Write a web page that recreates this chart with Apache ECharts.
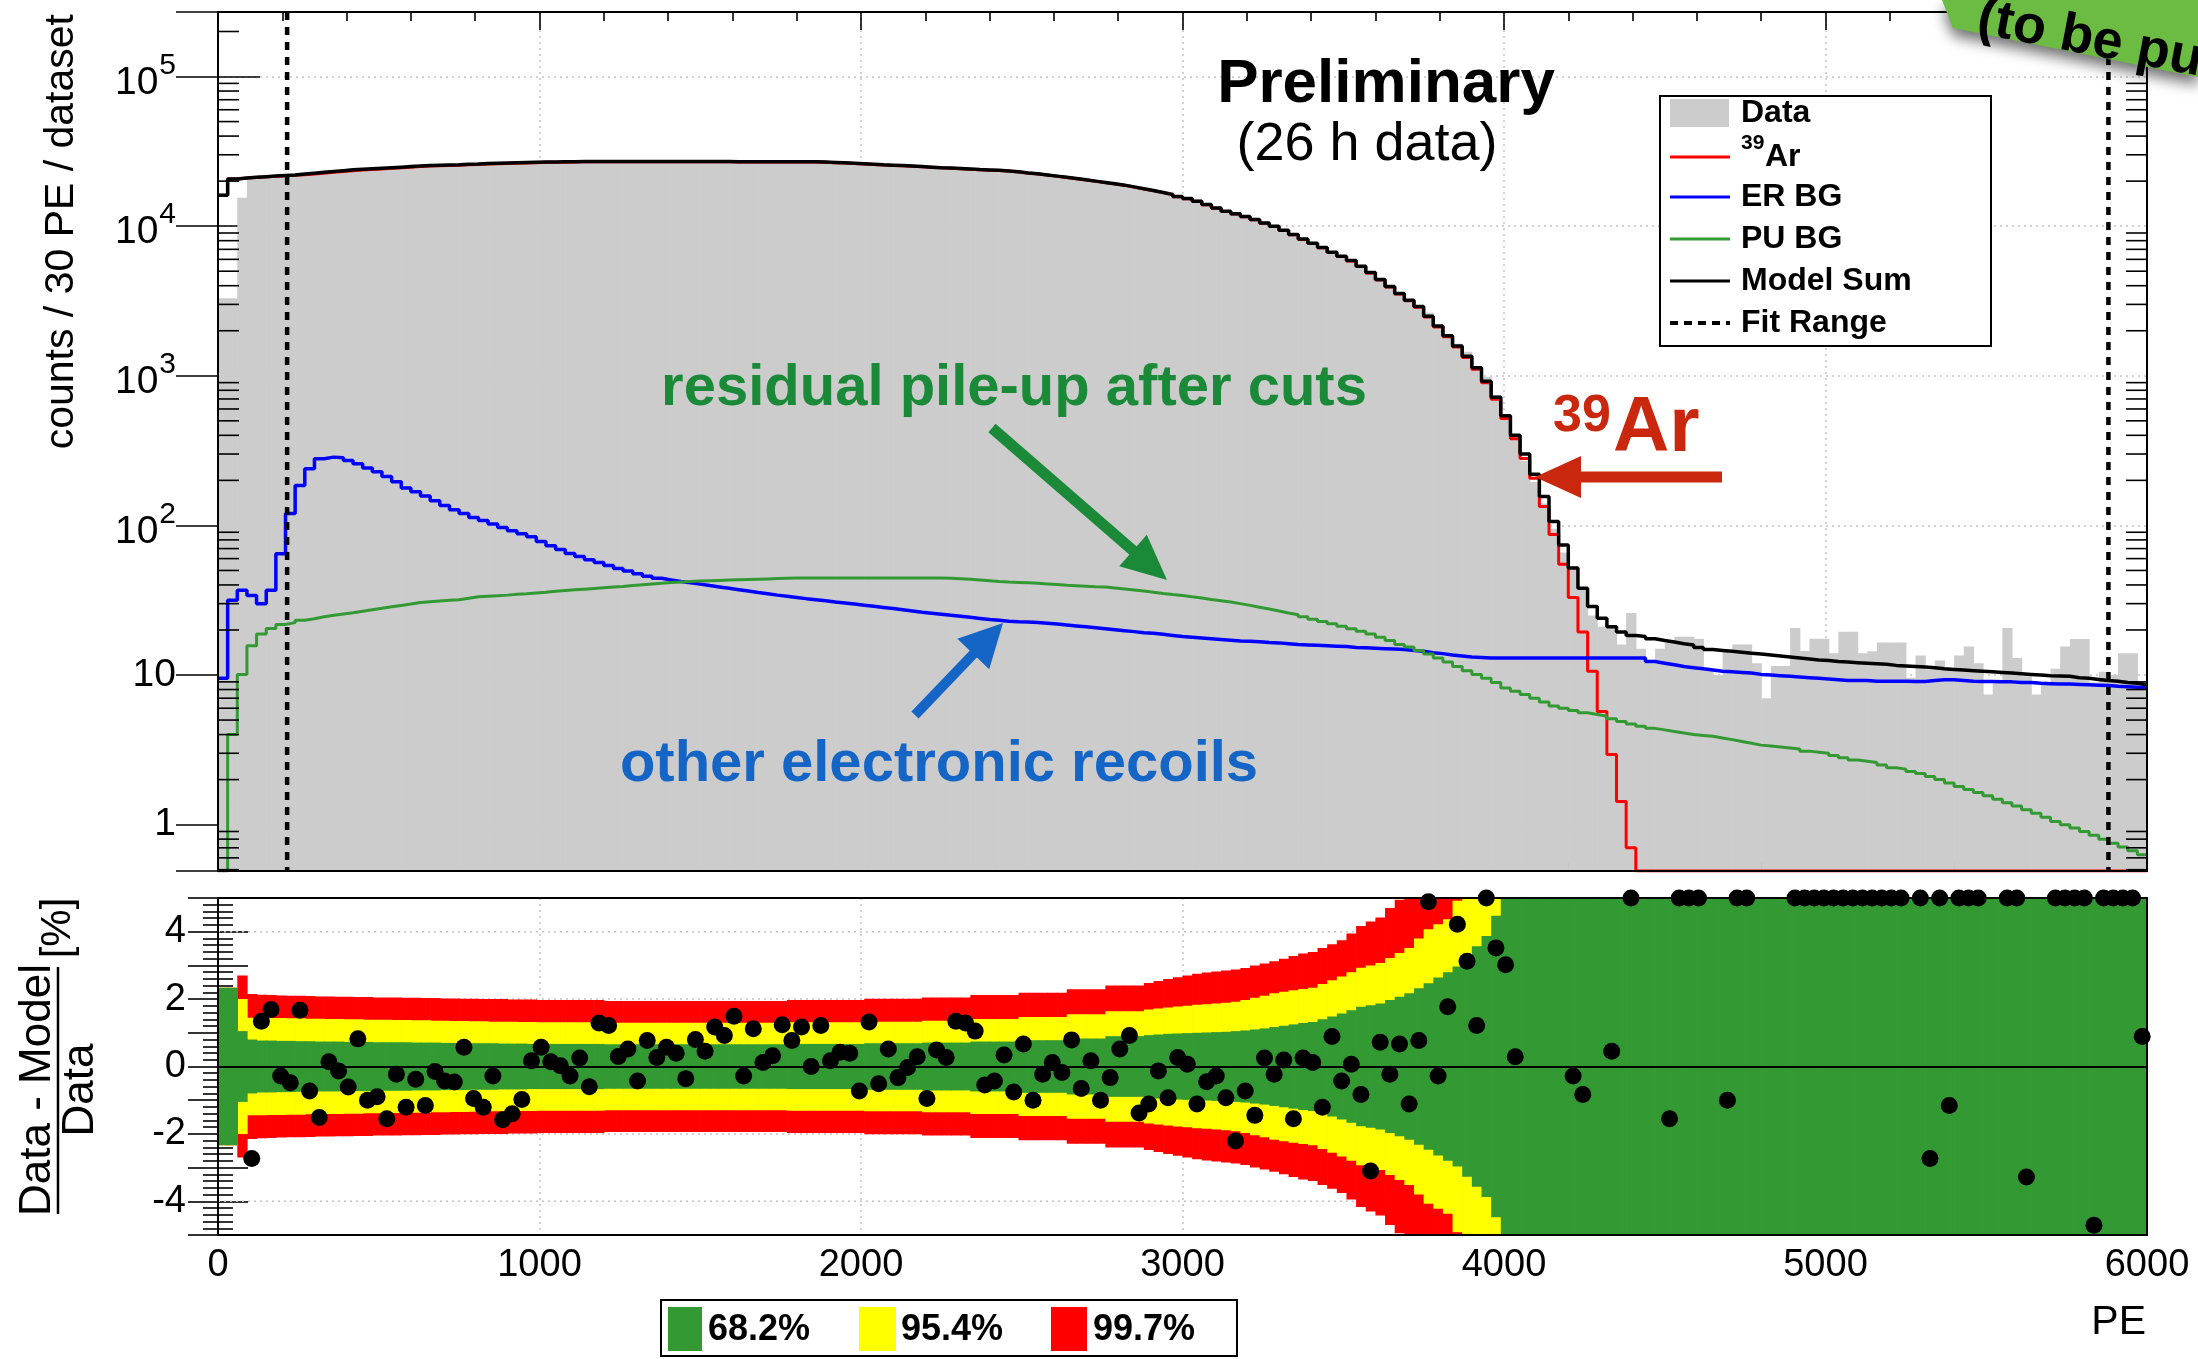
<!DOCTYPE html>
<html><head><meta charset="utf-8">
<script src="https://cdn.jsdelivr.net/npm/echarts@6/dist/echarts.min.js"></script>
<style>html,body{margin:0;padding:0;background:#fff}#c{width:2198px;height:1359px}</style>
</head><body><div id="c"></div><script>
// ---------------- DATA (30 PE bins, 0..6000 PE) ----------------
const BIN_WIDTH = 30;
const X_RANGE = [0, 6000];
const Y_LOG_RANGE = [0.49, 270000];
const RESID_RANGE = [-5, 5];
const fitRange = [215, 5880];

const modelSum = [
16100,20700,21000,21200,21400,21600,21800,22000,22300,22600,
22900,23200,23500,23800,24000,24200,24400,24600,24800,25000,
25200,25400,25500,25600,25700,25900,26000,26200,26300,26400,
26500,26600,26700,26800,26800,26900,26900,27000,27000,27000,
27000,27000,27000,27000,27000,27000,27000,27000,27000,27000,
27000,27000,27000,26950,26950,26900,26900,26900,26900,26900,
26900,26900,26800,26650,26500,26300,26100,25900,25700,25550,
25400,25200,25000,24800,24600,24450,24300,24100,23900,23750,
23600,23400,23100,22700,22400,22000,21600,21200,20800,20400,
20000,19600,19200,18800,18300,17800,17300,16800,16300,15800,
15300,14700,13950,13200,12600,12100,11600,11100,10500,10000,
9400,8800,8200,7700,7200,6700,6300,5900,5400,4900,
4400,3950,3550,3200,2900,2500,2150,1850,1580,1350,
1130,920,720,540,400,300,220,156,106,74,
52,38,28.7,24,21,19.4,18.4,18.1,17.5,17.0,
16.6,16.2,15.9,15.3,14.8,14.6,14.4,14.2,14.0,13.8,
13.6,13.4,13.2,13.0,12.8,12.6,12.5,12.3,12.2,12.1,
12.0,11.9,11.8,11.6,11.5,11.4,11.3,11.2,11.0,10.9,
10.8,10.7,10.6,10.5,10.4,10.3,10.2,10.1,10.0,9.9,
9.85,9.8,9.6,9.5,9.35,9.2,9.1,8.9,8.8,8.6];

const ar39 = [
16090,20660,20950,21150,21350,21540,21710,21860,22090,22340,
22600,22890,23190,23500,23720,23930,24140,24360,24570,24790,
25000,25210,25320,25430,25540,25750,25850,26060,26160,26270,
26370,26480,26580,26690,26690,26790,26800,26900,26900,26900,
26910,26910,26910,26910,26910,26910,26910,26920,26920,26920,
26920,26920,26920,26870,26870,26820,26820,26820,26820,26820,
26820,26820,26720,26570,26430,26230,26030,25830,25630,25480,
25330,25130,24930,24730,24530,24380,24230,24030,23830,23680,
23530,23340,23040,22640,22340,21940,21540,21140,20740,20340,
19940,19540,19140,18740,18240,17740,17250,16750,16250,15750,
15250,14650,13900,13150,12550,12050,11550,11050,10460,9960,
9360,8760,8160,7660,7160,6660,6260,5860,5370,4870,
4370,3920,3520,3170,2870,2470,2120,1820,1555,1326,
1107,898,698,519,379,280,207,134,87,55,
33,19.4,10.6,5.7,2.94,1.43,0.7,0,0,0,
0,0,0,0,0,0,0,0,0,0,
0,0,0,0,0,0,0,0,0,0,
0,0,0,0,0,0,0,0,0,0,
0,0,0,0,0,0,0,0,0,0,
0,0,0,0,0,0,0,0,0,0];

const erBG = [
9.5,31.6,36.8,34,30,36.8,64.6,120,185,239,
279,286,283,272,258,242,228,212,196,178,
168,157,146,136,127,120,113,108,102,97,
92,88,84,78,73,69,65,62,59,56.5,
54,51.5,49.5,47.5,45.8,44.3,43.2,42.2,41.4,40.5,
39.6,38.8,38.0,37.2,36.4,35.6,34.9,34.2,33.6,33.0,
32.4,31.9,31.4,30.8,30.3,29.8,29.3,28.8,28.3,27.8,
27.3,26.8,26.3,25.9,25.5,25.1,24.7,24.3,23.9,23.5,
23.2,22.9,22.7,22.6,22.4,22.2,21.9,21.6,21.3,21.0,
20.7,20.4,20.1,19.8,19.5,19.2,19.0,18.7,18.4,18.1,
17.9,17.7,17.5,17.3,17.1,16.9,16.8,16.7,16.5,16.4,
16.2,16.0,15.9,15.8,15.7,15.6,15.5,15.3,15.2,15.1,
15.0,14.9,14.8,14.6,14.4,14.1,13.9,13.6,13.4,13.2,
13.1,13.0,13.0,13.0,13.0,13.0,13.0,13.0,13.0,13.0,
13.0,13.0,13.0,13.0,13.0,13.0,13.0,13.0,12.3,12.0,
11.7,11.4,11.2,11.0,10.8,10.6,10.5,10.4,10.3,10.1,
10.0,9.9,9.8,9.7,9.6,9.5,9.4,9.3,9.2,9.2,
9.2,9.1,9.1,9.1,9.1,9.06,9.06,9.2,9.3,9.3,
9.2,9.1,9.06,9.06,9.0,9.0,8.9,8.9,8.8,8.75,
8.7,8.7,8.65,8.6,8.55,8.5,8.4,8.35,8.3,8.2];

const puBG = [
0,4.0,10.1,15.7,18.8,20.5,21.8,22.4,23.2,23.8,
24.5,25.1,25.6,26.1,26.7,27.3,27.9,28.6,29.2,29.8,
30.5,30.9,31.3,31.6,31.9,32.6,33.3,33.6,33.9,34.2,
34.6,34.9,35.4,35.8,36.3,36.7,37.1,37.5,37.9,38.3,
38.7,39.1,39.6,40.1,40.6,41.1,41.6,41.9,42.2,42.5,
42.7,42.9,43.1,43.3,43.5,43.7,43.9,44.1,44.3,44.5,
44.5,44.5,44.5,44.5,44.5,44.5,44.5,44.5,44.5,44.5,
44.5,44.5,44.5,44.5,44.5,44.3,44.0,43.6,43.2,42.7,
42.2,41.8,41.6,41.4,41.0,40.6,40.2,39.8,39.5,39.2,
38.9,38.7,38.2,37.6,37.0,36.4,35.8,35.1,34.5,34.0,
33.3,32.7,32.0,31.4,30.8,30.0,29.2,28.4,27.6,26.8,
26.0,25.3,24.5,23.6,22.8,22.0,21.2,20.4,19.6,18.8,
17.9,17.0,16.0,15.4,14.6,13.8,13.0,12.2,11.4,10.7,
10.1,9.5,8.9,8.2,7.8,7.4,7.0,6.6,6.2,6.0,
5.8,5.6,5.45,5.3,5.1,4.9,4.7,4.55,4.4,4.3,
4.2,4.1,4.0,3.95,3.9,3.8,3.7,3.6,3.5,3.4,
3.35,3.3,3.25,3.2,3.1,3.05,3.0,2.9,2.8,2.7,
2.65,2.6,2.5,2.4,2.35,2.27,2.2,2.1,2.0,1.9,
1.8,1.72,1.64,1.56,1.48,1.4,1.33,1.26,1.19,1.12,
1.05,1.0,0.95,0.9,0.85,0.8,0.75,0.71,0.67,0.63];

const dataCounts = [
3300,3300,15500,20600,21700,21950,21740,21890,22680,22440,
22730,23150,23470,23650,24190,24110,24450,24420,24860,24970,
25250,25320,25540,25580,25560,25950,25950,26190,26220,26320,
26450,26590,26750,26950,26840,26910,26820,27150,27000,27350,
27320,27080,27140,26880,27210,27070,27150,27100,26900,27220,
27120,27320,27250,27200,26880,27250,26930,26990,27230,26950,
27210,26900,27130,26690,26610,26400,25910,26240,25550,25670,
25360,25210,25070,24560,24720,24520,24620,24410,24150,23620,
23500,23480,23050,22780,22290,22050,21630,21060,20940,20270,
20030,19400,19140,18900,18470,17690,17350,17050,16550,15840,
15310,14550,14030,13240,12670,12030,11640,11100,10550,10030,
9400,8770,8210,7720,7240,6690,6250,5890,5350,4890,
4370,3970,3580,3200,2900,2640,2170,1810,1640,1450,
1145,980,745,556,401,270,195,140,95,66,
52,37.7,25,21,21.1,16,26,15,12,15,
16.4,18,18,17.5,11,10,14.3,16,16,12,
7,11.5,11.5,20.6,14.5,17.5,17.5,14,19.5,19.5,
14,14.4,16.5,16.5,16.5,9.6,13.5,10.9,12.5,10.8,
13.5,15.5,12,7.4,9,20.6,13,9.8,7.4,9,
11,15.5,17.4,17.4,8.9,10.5,10,14,14,8.7];

// (Data - Model)/Data [%]; null = below the panel (not drawn); 5 = drawn on the top edge
const residual = [
null,null,null,-2.73,1.34,1.69,-0.28,-0.48,1.67,-0.73,
-1.51,0.14,-0.13,-0.61,0.82,-1.0,-0.90,-1.55,-0.23,-1.21,
-0.38,-1.16,-0.15,-0.43,-0.46,0.57,-0.95,-1.21,-0.28,-1.58,
-1.4,-0.98,0.17,0.57,0.14,0.02,-0.28,0.25,-0.60,1.29,
1.22,0.30,0.52,-0.43,0.77,0.27,0.57,0.39,-0.36,0.80,
0.45,1.17,0.92,1.49,-0.28,1.12,0.12,0.32,1.24,0.77,
1.17,0.0,1.22,0.17,0.42,0.39,-0.73,1.32,-0.51,0.52,
-0.33,-0.03,0.29,-0.95,0.49,0.27,1.34,1.29,1.05,-0.55,
-0.43,0.34,-0.76,0.67,-1.0,-0.23,0.12,-0.18,0.79,-0.65,
0.17,-1.0,-0.33,0.52,0.92,-1.38,-1.11,-0.13,-0.93,0.27,
0.07,-1.11,-0.45,-0.28,-0.93,-2.21,-0.73,-1.45,0.25,-0.23,
0.19,-1.55,0.25,0.12,-1.21,0.89,-0.43,0.07,-0.83,-3.1,
0.72,-0.23,0.67,-1.11,0.77,4.89,-0.28,1.77,4.22,3.12,
1.22,5,3.52,3.02,0.29,null,null,null,null,null,
-0.28,-0.83,null,null,0.45,null,5,null,null,null,
-1.55,5,5,5,null,null,-1.0,5,5,null,
null,null,null,5,5,5,5,5,5,5,
5,5,5,5,5,null,5,-2.73,5,-1.16,
5,5,5,null,null,5,5,-3.28,null,null,
5,5,5,5,-4.71,5,5,5,5,0.89];

// half-widths of the 68.2 / 95.4 / 99.7 % bands [%]
const band682 = [
2.34,2.34,1.05,0.8,0.77,0.77,0.76,0.76,0.75,0.75,
0.74,0.74,0.74,0.73,0.73,0.73,0.72,0.72,0.72,0.72,
0.71,0.71,0.71,0.70,0.70,0.70,0.69,0.69,0.69,0.68,
0.68,0.68,0.67,0.67,0.67,0.67,0.67,0.67,0.67,0.67,
0.66,0.66,0.66,0.66,0.66,0.66,0.66,0.66,0.66,0.66,
0.66,0.66,0.66,0.66,0.66,0.66,0.66,0.66,0.66,0.67,
0.67,0.67,0.67,0.67,0.67,0.67,0.67,0.69,0.69,0.69,
0.69,0.69,0.69,0.71,0.71,0.71,0.71,0.71,0.74,0.74,
0.74,0.74,0.74,0.78,0.78,0.78,0.78,0.78,0.83,0.83,
0.83,0.83,0.90,0.90,0.90,0.90,0.93,0.95,0.97,0.98,
0.99,1.00,1.01,1.02,1.03,1.05,1.07,1.10,1.13,1.17,
1.21,1.25,1.29,1.32,1.40,1.48,1.57,1.67,1.77,1.82,
1.87,1.97,2.07,2.17,2.32,2.47,2.64,2.80,2.97,3.27,
3.57,3.87,4.47,9,9,9,9,9,9,9,
9,9,9,9,9,9,9,9,9,9,
9,9,9,9,9,9,9,9,9,9,
9,9,9,9,9,9,9,9,9,9,
9,9,9,9,9,9,9,9,9,9,
9,9,9,9,9,9,9,9,9,9,
9,9,9,9,9,9,9,9,9,9];

const band954 = [
2.34,2.34,2.0,1.45,1.45,1.44,1.44,1.43,1.43,1.42,
1.42,1.41,1.41,1.40,1.40,1.39,1.39,1.39,1.38,1.38,
1.37,1.37,1.36,1.36,1.35,1.35,1.34,1.34,1.33,1.33,
1.33,1.32,1.32,1.31,1.31,1.31,1.31,1.31,1.31,1.31,
1.30,1.30,1.30,1.30,1.30,1.30,1.30,1.30,1.30,1.30,
1.30,1.30,1.30,1.30,1.30,1.30,1.30,1.30,1.30,1.31,
1.31,1.31,1.31,1.31,1.31,1.31,1.31,1.33,1.33,1.33,
1.33,1.33,1.33,1.36,1.36,1.36,1.36,1.36,1.41,1.41,
1.41,1.41,1.41,1.47,1.47,1.47,1.47,1.47,1.55,1.55,
1.55,1.55,1.64,1.64,1.64,1.64,1.69,1.72,1.75,1.78,
1.80,1.83,1.85,1.87,1.89,1.92,1.97,2.04,2.10,2.17,
2.22,2.26,2.30,2.34,2.45,2.56,2.67,2.80,2.93,3.00,
3.07,3.22,3.37,3.52,3.80,4.07,4.22,4.37,4.92,9,
9,9,9,9,9,9,9,9,9,9,
9,9,9,9,9,9,9,9,9,9,
9,9,9,9,9,9,9,9,9,9,
9,9,9,9,9,9,9,9,9,9,
9,9,9,9,9,9,9,9,9,9,
9,9,9,9,9,9,9,9,9,9,
9,9,9,9,9,9,9,9,9,9];

const band997 = [
2.34,2.34,2.7,2.15,2.13,2.12,2.11,2.10,2.10,2.09,
2.08,2.08,2.07,2.07,2.06,2.06,2.05,2.05,2.05,2.04,
2.04,2.03,2.03,2.02,2.02,2.01,2.01,2.00,2.00,2.00,
1.99,1.99,1.99,1.97,1.97,1.97,1.97,1.97,1.97,1.97,
1.94,1.94,1.94,1.94,1.94,1.94,1.94,1.94,1.94,1.94,
1.94,1.94,1.94,1.94,1.94,1.94,1.94,1.94,1.94,1.97,
1.97,1.97,1.97,1.97,1.97,1.97,1.97,2.01,2.01,2.01,
2.01,2.01,2.01,2.05,2.05,2.05,2.05,2.05,2.12,2.12,
2.12,2.12,2.12,2.19,2.19,2.19,2.19,2.19,2.29,2.29,
2.29,2.29,2.40,2.40,2.40,2.40,2.48,2.54,2.60,2.65,
2.70,2.75,2.79,2.82,2.85,2.88,2.92,3.00,3.06,3.12,
3.20,3.28,3.35,3.40,3.52,3.63,3.75,3.95,4.17,4.30,
4.42,4.70,4.95,9,9,9,9,9,9,9,
9,9,9,9,9,9,9,9,9,9,
9,9,9,9,9,9,9,9,9,9,
9,9,9,9,9,9,9,9,9,9,
9,9,9,9,9,9,9,9,9,9,
9,9,9,9,9,9,9,9,9,9,
9,9,9,9,9,9,9,9,9,9,
9,9,9,9,9,9,9,9,9,9];

const residGridValues = [-4, -2, 2, 4];
const bandLabels = ['68.2%', '95.4%', '99.7%'];
const legendLabels = ['Data', 'Ar', 'ER BG', 'PU BG', 'Model Sum', 'Fit Range'];

// ---------------- STYLE ----------------
const FONT = '"Liberation Sans", Arial, Helvetica, sans-serif';
const C_GRAY = '#cccccc', C_RED = '#ff0000', C_BLUE = '#0000ff', C_GREEN = '#339933';
const C_BAND_G = '#339933', C_BAND_Y = '#ffff00', C_BAND_R = '#ff0000';
const GL = 218, GR = 51, G0T = 12, G0H = 859, G1T = 898, G1H = 337;

// ---------------- BUILD ----------------
const yMin = Y_LOG_RANGE[0];
function floorLog(v){ return Math.max(v, yMin); }
function stepData(vals){
  const out = [];
  for (let k = 0; k < vals.length; k++) out.push([k * BIN_WIDTH, floorLog(vals[k])]);
  out.push([vals.length * BIN_WIDTH, floorLog(vals[vals.length - 1])]);
  return out;
}
const fillData = dataCounts.map((v, k) => [k * BIN_WIDTH, (k + 1) * BIN_WIDTH, v]);
function bandSeriesData(widths){ return widths.map((h, k) => [k * BIN_WIDTH, (k + 1) * BIN_WIDTH, h]); }
const residPoints = [];
residual.forEach((r, k) => { if (r !== null) residPoints.push([k * BIN_WIDTH + BIN_WIDTH / 2, r]); });
const logMinor = [];
for (let e = -1; e <= 5; e++) for (let m = 2; m <= 9; m++) { const v = m * Math.pow(10, e); if (v > Y_LOG_RANGE[0] && v < Y_LOG_RANGE[1]) logMinor.push([X_RANGE[0], v]); }

const chart = echarts.init(document.getElementById('c'), null, {renderer: 'canvas'});

function xAxisCfg(grid, pos, showLabel, tickLen, minorLen, split){
  return {
    type: 'value', gridIndex: grid, position: pos, min: X_RANGE[0], max: X_RANGE[1], interval: 1000,
    axisLine: {show: false},
    axisTick: {show: true, inside: true, length: tickLen, lineStyle: {color: '#000', width: 1.6}},
    minorTick: {show: true, splitNumber: 5, length: minorLen, lineStyle: {color: '#000', width: 1.6}},
    splitLine: {show: split, lineStyle: {color: '#c4c4c4', width: 1.5, type: [2, 4]}},
    minorSplitLine: {show: false},
    axisLabel: {show: showLabel, color: '#000', fontSize: 38, fontFamily: FONT, margin: 12,
      formatter: v => String(Math.round(v))}
  };
}
const logLabelRich = {
  c: {fontSize: 39, fontFamily: FONT, color: '#000', lineHeight: 40},
  b: {fontSize: 39, fontFamily: FONT, color: '#000', lineHeight: 52, verticalAlign: 'bottom'},
  s: {fontSize: 30, fontFamily: FONT, color: '#000', lineHeight: 30, verticalAlign: 'top', padding: [0, 0, 0, 1]}
};
function logFormatter(v){
  const e = Math.log10(v), r = Math.round(e);
  if (Math.abs(e - r) > 1e-6) return '';
  if (r === 0) return '{c|1}';
  if (r === 1) return '{c|10}';
  return '{b|10}{s|' + r + '}';
}
function yLogCfg(pos, showLabel, split){
  return {
    type: 'log', logBase: 10, gridIndex: 0, position: pos, min: Y_LOG_RANGE[0], max: Y_LOG_RANGE[1], splitNumber: 6,
    axisLine: {show: false},
    axisTick: {show: true, inside: true, length: 42, lineStyle: {color: '#000', width: 1.6}},
    minorTick: {show: false},
    splitLine: {show: split, lineStyle: {color: '#c4c4c4', width: 1.5, type: [2, 4]}},
    axisLabel: {show: showLabel, margin: 42, formatter: logFormatter, rich: logLabelRich}
  };
}
function yResCfg(pos, showLabel){
  return {
    type: 'value', gridIndex: 1, position: pos, min: RESID_RANGE[0], max: RESID_RANGE[1], interval: 1,
    axisLine: {show: false},
    axisTick: {show: true, inside: true, length: 30, lineStyle: {color: '#000', width: 1.6}},
    minorTick: {show: true, splitNumber: 5, length: 15, lineStyle: {color: '#000', width: 1.6}},
    splitLine: {show: false},
    axisLabel: {show: showLabel, color: '#000', fontSize: 38, fontFamily: FONT, margin: 32,
      formatter: v => (Math.round(v) % 2 === 0 && Math.abs(v) < 5) ? String(Math.round(v)) : ''}
  };
}

function stepSeries(name, vals, color, width, z){
  return {name, type: 'line', xAxisIndex: 0, yAxisIndex: 0, step: 'end', data: stepData(vals),
    showSymbol: false, symbol: 'none', lineStyle: {color, width}, z, clip: true, silent: true};
}
function bandSeries(name, widths, color, z){
  return {type: 'custom', name, xAxisIndex: 2, yAxisIndex: 2, z, silent: true, data: bandSeriesData(widths), encode: {x: [0, 1], y: 2},
    renderItem: (p, api) => {
      const h = api.value(2);
      const top = Math.min(h, RESID_RANGE[1]), bot = Math.max(-h, RESID_RANGE[0]);
      const a = api.coord([api.value(0), top]), b = api.coord([api.value(1), bot]);
      return {type: 'rect', shape: {x: a[0], y: a[1], width: b[0] - a[0] + 0.7, height: b[1] - a[1]}, style: {fill: color, stroke: null}};
    }};
}

function arrow(x1, y1, x2, y2, headLen, headHalf, width, color){
  const dx = x2 - x1, dy = y2 - y1, L = Math.hypot(dx, dy), ux = dx / L, uy = dy / L, nx = -uy, ny = ux;
  const bx = x2 - headLen * ux, by = y2 - headLen * uy;
  return [
    {type: 'line', z: 50, shape: {x1, y1, x2: bx + ux * 2, y2: by + uy * 2}, style: {stroke: color, lineWidth: width}},
    {type: 'polygon', z: 50, shape: {points: [[x2, y2], [bx + headHalf * nx, by + headHalf * ny], [bx - headHalf * nx, by - headHalf * ny]]}, style: {fill: color}}
  ];
}

const legendRows = [113, 155, 197, 239, 281, 323];
const graphics = [
  // frames
  {type: 'rect', z: 60, shape: {x: GL, y: G0T, width: 2198 - GL - GR, height: G0H}, style: {fill: 'none', stroke: '#000', lineWidth: 2}},
  {type: 'rect', z: 60, shape: {x: GL, y: G1T, width: 2198 - GL - GR, height: G1H}, style: {fill: 'none', stroke: '#000', lineWidth: 2}},
  // axis titles
  {type: 'text', z: 60, x: 62, y: 14, rotation: Math.PI / 2, style: {text: 'counts / 30 PE / dataset', font: '41px ' + FONT, fill: '#000', align: 'right', verticalAlign: 'middle'}},
  {type: 'text', z: 60, x: 2146, y: 1323, style: {text: 'PE', font: '41px ' + FONT, fill: '#000', align: 'right', verticalAlign: 'middle'}},
  {type: 'text', z: 60, x: 38, y: 1090, rotation: Math.PI / 2, style: {text: 'Data - Model', font: '44px ' + FONT, fill: '#000', align: 'center', verticalAlign: 'middle'}},
  {type: 'line', z: 60, shape: {x1: 58, y1: 967, x2: 58, y2: 1214}, style: {stroke: '#000', lineWidth: 2.5}},
  {type: 'text', z: 60, x: 81, y: 1090, rotation: Math.PI / 2, style: {text: 'Data', font: '44px ' + FONT, fill: '#000', align: 'center', verticalAlign: 'middle'}},
  {type: 'text', z: 60, x: 58, y: 928, rotation: Math.PI / 2, style: {text: '[%]', font: '42px ' + FONT, fill: '#000', align: 'center', verticalAlign: 'middle'}},
  // annotations
  {type: 'text', z: 55, x: 1386, y: 85, style: {text: 'Preliminary', font: 'bold 62px ' + FONT, fill: '#000', align: 'center', verticalAlign: 'middle'}},
  {type: 'text', z: 55, x: 1367, y: 145, style: {text: '(26 h data)', font: '54px ' + FONT, fill: '#000', align: 'center', verticalAlign: 'middle'}},
  {type: 'text', z: 55, x: 1014, y: 389, style: {text: 'residual pile-up after cuts', font: 'bold 58px ' + FONT, fill: '#1a8a38', align: 'center', verticalAlign: 'middle'}},
  {type: 'text', z: 55, x: 939, y: 765, style: {text: 'other electronic recoils', font: 'bold 58px ' + FONT, fill: '#1565c6', align: 'center', verticalAlign: 'middle'}},
  {type: 'text', z: 55, x: 1553, y: 417, style: {text: '39', font: 'bold 52px ' + FONT, fill: '#c9280e', align: 'left', verticalAlign: 'middle'}},
  {type: 'text', z: 55, x: 1613, y: 429, style: {text: 'Ar', font: 'bold 78px ' + FONT, fill: '#c9280e', align: 'left', verticalAlign: 'middle'}},
  ...arrow(992, 428, 1167, 580, 45, 21, 11, '#1a8a38'),
  ...arrow(915, 715, 1003, 623, 43, 22, 10, '#1565c6'),
  ...arrow(1722, 477, 1535, 477, 46, 21, 11, '#c9280e'),
  // top legend
  {type: 'rect', z: 70, shape: {x: 1660, y: 96, width: 331, height: 250}, style: {fill: '#fff', stroke: '#000', lineWidth: 2}},
  {type: 'rect', z: 71, shape: {x: 1670, y: legendRows[0] - 14, width: 59, height: 28}, style: {fill: C_GRAY}},
  {type: 'line', z: 71, shape: {x1: 1670, y1: legendRows[1] + 2, x2: 1730, y2: legendRows[1] + 2}, style: {stroke: C_RED, lineWidth: 3}},
  {type: 'line', z: 71, shape: {x1: 1670, y1: legendRows[2], x2: 1730, y2: legendRows[2]}, style: {stroke: C_BLUE, lineWidth: 3}},
  {type: 'line', z: 71, shape: {x1: 1670, y1: legendRows[3], x2: 1730, y2: legendRows[3]}, style: {stroke: C_GREEN, lineWidth: 3}},
  {type: 'line', z: 71, shape: {x1: 1670, y1: legendRows[4], x2: 1730, y2: legendRows[4]}, style: {stroke: '#000', lineWidth: 3}},
  {type: 'line', z: 71, shape: {x1: 1670, y1: legendRows[5], x2: 1730, y2: legendRows[5]}, style: {stroke: '#000', lineWidth: 4, lineDash: [8, 6]}},
  {type: 'text', z: 71, x: 1741, y: legendRows[0], style: {text: legendLabels[0], font: 'bold 32px ' + FONT, fill: '#000', verticalAlign: 'middle'}},
  {type: 'text', z: 71, x: 1741, y: legendRows[1] - 12, style: {text: '39', font: 'bold 21px ' + FONT, fill: '#000', verticalAlign: 'middle'}},
  {type: 'text', z: 71, x: 1765, y: legendRows[1] + 2, style: {text: legendLabels[1], font: 'bold 32px ' + FONT, fill: '#000', verticalAlign: 'middle'}},
  {type: 'text', z: 71, x: 1741, y: legendRows[2], style: {text: legendLabels[2], font: 'bold 32px ' + FONT, fill: '#000', verticalAlign: 'middle'}},
  {type: 'text', z: 71, x: 1741, y: legendRows[3], style: {text: legendLabels[3], font: 'bold 32px ' + FONT, fill: '#000', verticalAlign: 'middle'}},
  {type: 'text', z: 71, x: 1741, y: legendRows[4], style: {text: legendLabels[4], font: 'bold 32px ' + FONT, fill: '#000', verticalAlign: 'middle'}},
  {type: 'text', z: 71, x: 1741, y: legendRows[5], style: {text: legendLabels[5], font: 'bold 32px ' + FONT, fill: '#000', verticalAlign: 'middle'}},
  // band legend
  {type: 'rect', z: 70, shape: {x: 661, y: 1300, width: 576, height: 56}, style: {fill: '#fff', stroke: '#000', lineWidth: 2}},
  {type: 'rect', z: 71, shape: {x: 668, y: 1307, width: 34, height: 44}, style: {fill: C_BAND_G}},
  {type: 'rect', z: 71, shape: {x: 859, y: 1307, width: 37, height: 44}, style: {fill: C_BAND_Y}},
  {type: 'rect', z: 71, shape: {x: 1051, y: 1307, width: 36, height: 44}, style: {fill: C_BAND_R}},
  {type: 'text', z: 71, x: 708, y: 1330, style: {text: bandLabels[0], font: 'bold 36px ' + FONT, fill: '#000', verticalAlign: 'middle'}},
  {type: 'text', z: 71, x: 901, y: 1330, style: {text: bandLabels[1], font: 'bold 36px ' + FONT, fill: '#000', verticalAlign: 'middle'}},
  {type: 'text', z: 71, x: 1093, y: 1330, style: {text: bandLabels[2], font: 'bold 36px ' + FONT, fill: '#000', verticalAlign: 'middle'}},
  // sticker in the corner
  {type: 'polygon', z: 80, shape: {points: [[1942, 0], [2198, 0], [2198, 77], [1953, 28]]},
    style: {fill: '#6cbb42', shadowBlur: 14, shadowColor: 'rgba(0,0,0,0.55)', shadowOffsetY: 8}},
  {type: 'text', z: 81, x: 1978, y: 18, rotation: -0.19, style: {text: '(to be pu', font: 'bold 54px ' + FONT, fill: '#000', verticalAlign: 'middle'}}
];

const option = {
  animation: false,
  backgroundColor: '#fff',
  grid: [
    {left: GL, right: GR, top: G0T, height: G0H, show: false},
    {left: GL, right: GR, top: G1T, height: G1H, show: false}
  ],
  xAxis: [
    xAxisCfg(0, 'bottom', false, 18, 9, true),
    xAxisCfg(0, 'top', false, 18, 9, false),
    xAxisCfg(1, 'bottom', true, 29, 15, true),
    xAxisCfg(1, 'top', false, 29, 15, false)
  ],
  yAxis: [
    yLogCfg('left', true, true),
    yLogCfg('right', false, false),
    yResCfg('left', true),
    yResCfg('right', false)
  ],
  series: [
    // data histogram (filled)
    {type: 'custom', name: 'Data', xAxisIndex: 0, yAxisIndex: 0, z: 1, silent: true, clip: true,
      data: fillData, encode: {x: [0, 1], y: 2},
      renderItem: (p, api) => {
        const a = api.coord([api.value(0), api.value(2)]), b = api.coord([api.value(1), yMin]);
        return {type: 'rect', shape: {x: a[0], y: a[1], width: b[0] - a[0] + 0.6, height: b[1] - a[1]}, style: {fill: C_GRAY}};
      }},
    stepSeries('39Ar', ar39, C_RED, 3, 3),
    stepSeries('ER BG', erBG, C_BLUE, 3.5, 4),
    stepSeries('PU BG', puBG, C_GREEN, 3, 4),
    stepSeries('Model Sum', modelSum, '#000', 3.5, 5),
    // log minor ticks (left & right)
    {type: 'custom', xAxisIndex: 0, yAxisIndex: 0, z: 6, silent: true, data: logMinor, encode: {x: 0, y: 1},
      renderItem: (p, api) => {
        const v = api.value(1), a = api.coord([X_RANGE[0], v]), b = api.coord([X_RANGE[1], v]);
        return {type: 'group', children: [
          {type: 'line', shape: {x1: a[0], y1: a[1], x2: a[0] + 21, y2: a[1]}, style: {stroke: '#000', lineWidth: 1.6}},
          {type: 'line', shape: {x1: b[0] - 21, y1: b[1], x2: b[0], y2: b[1]}, style: {stroke: '#000', lineWidth: 1.6}}
        ]};
      }},
    // fit range
    {type: 'custom', name: 'Fit Range', xAxisIndex: 0, yAxisIndex: 0, z: 7, silent: true,
      data: fitRange.map(x => [x, yMin]), encode: {x: 0, y: 1},
      renderItem: (p, api) => {
        const a = api.coord([api.value(0), Y_LOG_RANGE[1]]), b = api.coord([api.value(0), yMin]);
        return {type: 'line', shape: {x1: a[0], y1: a[1], x2: b[0], y2: b[1]}, style: {stroke: '#000', lineWidth: 4.5, lineDash: [8, 7]}};
      }},
    // residual panel: dotted grid lines
    {type: 'custom', xAxisIndex: 2, yAxisIndex: 2, z: 1, silent: true,
      data: residGridValues.map(v => [X_RANGE[0], v]), encode: {x: 0, y: 1},
      renderItem: (p, api) => {
        const a = api.coord([X_RANGE[0], api.value(1)]), b = api.coord([X_RANGE[1], api.value(1)]);
        return {type: 'line', shape: {x1: a[0], y1: a[1], x2: b[0], y2: b[1]}, style: {stroke: '#c4c4c4', lineWidth: 1.5, lineDash: [2, 4]}};
      }},
    // bands (widest first)
    bandSeries('99.7%', band997, C_BAND_R, 2),
    bandSeries('95.4%', band954, C_BAND_Y, 3),
    bandSeries('68.2%', band682, C_BAND_G, 4),
    // residual points
    {type: 'scatter', name: 'residual', xAxisIndex: 2, yAxisIndex: 2, z: 6, data: residPoints, symbol: 'circle', symbolSize: 17,
      itemStyle: {color: '#000', opacity: 1}, clip: false, silent: true,
      markLine: {silent: true, symbol: 'none', label: {show: false}, lineStyle: {color: '#000', width: 2, type: 'solid'}, data: [{yAxis: 0}]}}
  ],
  graphic: graphics
};
chart.setOption(option);
</script></body></html>
